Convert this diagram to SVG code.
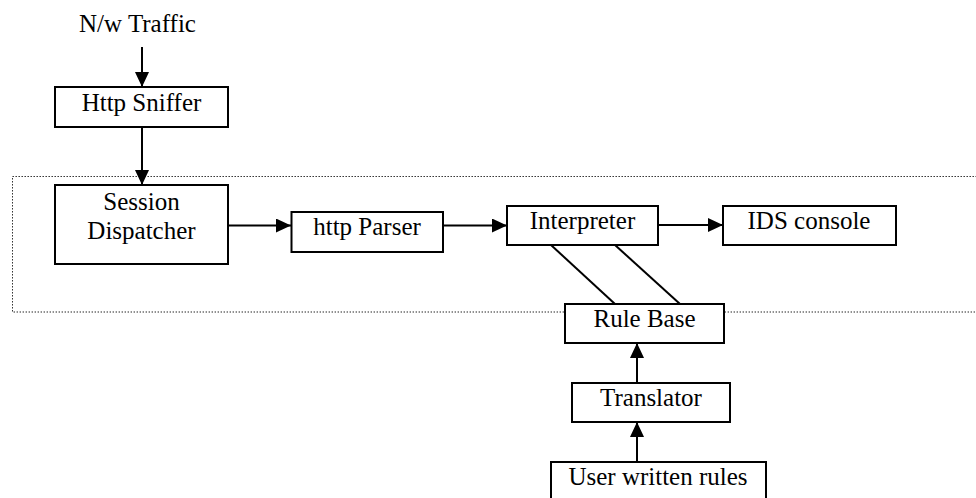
<svg xmlns="http://www.w3.org/2000/svg" width="976" height="498" viewBox="0 0 976 498">
  <style>
    .box { fill: #fff; stroke: #000; stroke-width: 2; }
    .lbl { font-family: "Liberation Serif", "Times New Roman", serif; font-size: 25px; fill: #000; text-anchor: middle; }
    .edge { fill: none; stroke: #000; stroke-width: 2; }
    .zone { fill: none; stroke: #222; stroke-width: 1; stroke-dasharray: 1.4 1.6; }
  </style>
  <defs>
    <marker id="arrow" markerUnits="userSpaceOnUse" markerWidth="16" markerHeight="14" refX="15" refY="7" orient="auto">
      <path d="M0,0 L15,7 L0,14 Z" fill="#000"/>
    </marker>
  </defs>
  <rect width="976" height="498" fill="#fff"/>

  <!-- dotted boundary around the analysis stage -->
  <rect class="zone" x="12.5" y="176.5" width="1000" height="135.5"/>

  <g id="connectors">
    <path class="edge" d="M142,47 V87" marker-end="url(#arrow)"/>
    <path class="edge" d="M142,127 V185" marker-end="url(#arrow)"/>
    <path class="edge" d="M228,225.5 H291" marker-end="url(#arrow)"/>
    <path class="edge" d="M443,225.5 H507" marker-end="url(#arrow)"/>
    <path class="edge" d="M658,225 H723" marker-end="url(#arrow)"/>
    <path class="edge" d="M637,383 V343" marker-end="url(#arrow)"/>
    <path class="edge" d="M637,462 V422" marker-end="url(#arrow)"/>
    <path class="edge" d="M551,245 L615,304"/>
    <path class="edge" d="M615,245 L680,304"/>
  </g>

  <g id="nw-traffic">
    <text class="lbl" x="137.5" y="32">N/w Traffic</text>
  </g>
  <g id="http-sniffer">
    <rect class="box" x="55" y="87" width="173" height="40"/>
    <text class="lbl" x="141.5" y="111">Http Sniffer</text>
  </g>
  <g id="session-dispatcher">
    <rect class="box" x="55" y="185" width="173" height="79"/>
    <text class="lbl" x="141.5" y="210">Session</text>
    <text class="lbl" x="141.5" y="239">Dispatcher</text>
  </g>
  <g id="http-parser">
    <rect class="box" x="291.5" y="212" width="151.5" height="40"/>
    <text class="lbl" x="367" y="235">http Parser</text>
  </g>
  <g id="interpreter">
    <rect class="box" x="507" y="206" width="151" height="39"/>
    <text class="lbl" x="582.5" y="229">Interpreter</text>
  </g>
  <g id="ids-console">
    <rect class="box" x="723" y="206" width="173" height="39"/>
    <text class="lbl" x="809" y="229">IDS console</text>
  </g>
  <g id="rule-base">
    <rect class="box" x="565" y="304" width="159" height="39"/>
    <text class="lbl" x="644.5" y="327">Rule Base</text>
  </g>
  <g id="translator">
    <rect class="box" x="572" y="383" width="158" height="39"/>
    <text class="lbl" x="651" y="406">Translator</text>
  </g>
  <g id="user-rules">
    <rect class="box" x="551" y="462" width="215" height="50"/>
    <text class="lbl" x="658" y="485">User written rules</text>
  </g>
</svg>
